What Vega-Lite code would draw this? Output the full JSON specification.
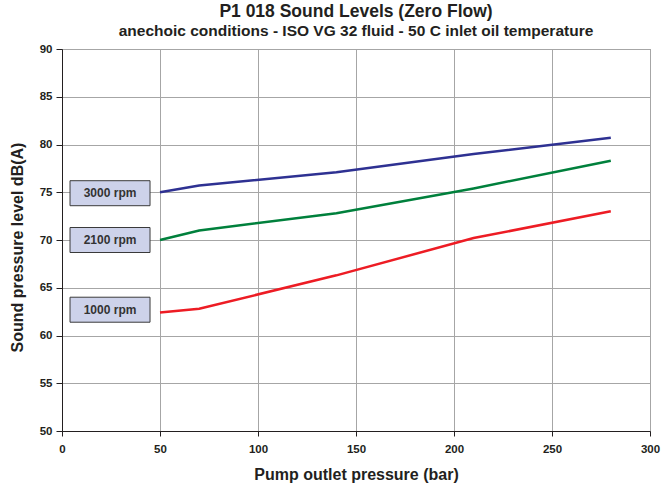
{
  "$schema": "https://vega.github.io/schema/vega-lite/v6.json",
  "autosize": "none",
  "width": 588,
  "height": 382,
  "padding": {"left": 62, "top": 49, "right": 11, "bottom": 55},
  "background": "white",
  "title": {
    "text": "P1 018 Sound Levels (Zero Flow)",
    "subtitle": "anechoic conditions - ISO VG 32 fluid - 50 C inlet oil temperature",
    "anchor": "middle",
    "font": "Liberation Sans",
    "fontSize": 17.5,
    "fontWeight": "bold",
    "color": "#231f20",
    "subtitleFont": "Liberation Sans",
    "subtitleFontSize": 15.5,
    "subtitleFontWeight": "bold",
    "subtitleColor": "#231f20",
    "subtitlePadding": 3,
    "offset": 4
  },
  "config": {
    "view": {"stroke": "#808080", "strokeWidth": 1},
    "axis": {
      "labelFont": "Liberation Sans",
      "labelFontWeight": "bold",
      "labelFontSize": 11.5,
      "labelColor": "#231f20",
      "titleFont": "Liberation Sans",
      "titleFontWeight": "bold",
      "titleFontSize": 16,
      "titleColor": "#231f20",
      "domainColor": "#231f20",
      "tickColor": "#231f20",
      "gridColor": "#a6a6a6",
      "gridWidth": 1,
      "gridOpacity": 1
    }
  },
  "datasets": {
    "curves": [
      {"pressure": 50, "level": 75.0, "speed": "3000 rpm"},
      {"pressure": 70, "level": 75.7, "speed": "3000 rpm"},
      {"pressure": 140, "level": 77.1, "speed": "3000 rpm"},
      {"pressure": 210, "level": 79.0, "speed": "3000 rpm"},
      {"pressure": 280, "level": 80.7, "speed": "3000 rpm"},
      {"pressure": 50, "level": 70.0, "speed": "2100 rpm"},
      {"pressure": 70, "level": 71.0, "speed": "2100 rpm"},
      {"pressure": 140, "level": 72.8, "speed": "2100 rpm"},
      {"pressure": 210, "level": 75.4, "speed": "2100 rpm"},
      {"pressure": 280, "level": 78.3, "speed": "2100 rpm"},
      {"pressure": 50, "level": 62.4, "speed": "1000 rpm"},
      {"pressure": 70, "level": 62.8, "speed": "1000 rpm"},
      {"pressure": 140, "level": 66.3, "speed": "1000 rpm"},
      {"pressure": 210, "level": 70.2, "speed": "1000 rpm"},
      {"pressure": 280, "level": 73.0, "speed": "1000 rpm"}
    ],
    "labels": [
      {"pressure": 24.5, "level": 74.9, "speed": "3000 rpm"},
      {"pressure": 24.5, "level": 70.0, "speed": "2100 rpm"},
      {"pressure": 24.5, "level": 62.7, "speed": "1000 rpm"}
    ]
  },
  "encoding": {
    "x": {
      "field": "pressure",
      "type": "quantitative",
      "scale": {"domain": [0, 300], "nice": false},
      "axis": {
        "title": "Pump outlet pressure (bar)",
        "values": [0, 50, 100, 150, 200, 250, 300],
        "tickSize": 5,
        "labelPadding": 7,
        "titlePadding": 12,
        "labelFlush": false
      }
    },
    "y": {
      "field": "level",
      "type": "quantitative",
      "scale": {"domain": [50, 90], "nice": false, "zero": false},
      "axis": {
        "title": "Sound pressure level dB(A)",
        "values": [50, 55, 60, 65, 70, 75, 80, 85, 90],
        "tickSize": 6,
        "labelPadding": 4,
        "titlePadding": 14,
        "titleY": 198,
        "labelFlush": false
      }
    }
  },
  "layer": [
    {
      "data": {"name": "curves"},
      "mark": {"type": "line", "strokeWidth": 2.5},
      "encoding": {
        "color": {
          "field": "speed",
          "type": "nominal",
          "scale": {
            "domain": ["3000 rpm", "2100 rpm", "1000 rpm"],
            "range": ["#2e3192", "#00803c", "#ed1c24"]
          },
          "legend": null
        }
      }
    },
    {
      "data": {"name": "labels"},
      "mark": {
        "type": "point",
        "shape": "M-1.6,-0.5H1.6V0.5H-1.6Z",
        "size": 2500,
        "filled": true,
        "fill": "#cdd2ea",
        "stroke": "#3a3a3a",
        "strokeWidth": 1,
        "opacity": 1
      }
    },
    {
      "data": {"name": "labels"},
      "mark": {
        "type": "text",
        "font": "Liberation Sans",
        "fontWeight": "bold",
        "fontSize": 12,
        "color": "#333333",
        "align": "center",
        "baseline": "middle"
      },
      "encoding": {"text": {"field": "speed"}}
    }
  ]
}
